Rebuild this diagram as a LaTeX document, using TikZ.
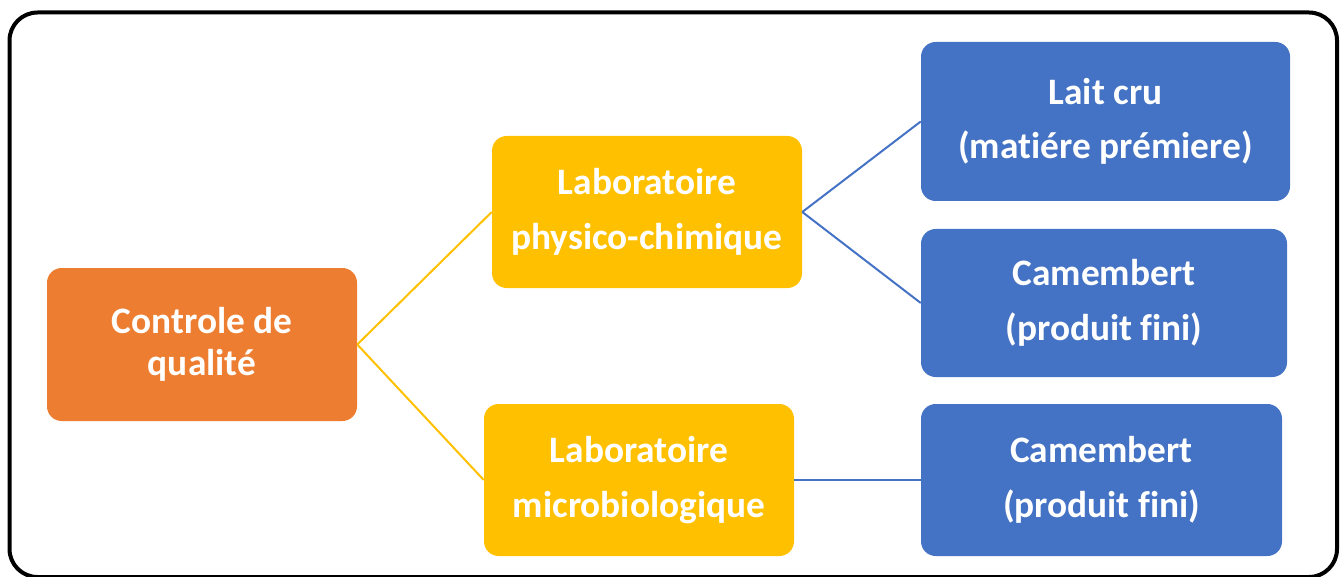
\documentclass[tikz,border=0pt]{standalone}
\usepackage{fontspec}
\setmainfont{Carlito}[Ligatures=CommonOff]
\definecolor{orangebox}{HTML}{ED7D31}
\definecolor{goldbox}{HTML}{FFC000}
\definecolor{bluebox}{HTML}{4472C4}

\begin{document}
\begin{tikzpicture}[x=0.75pt,y=-0.75pt,
  box/.style={rounded corners=11pt,inner sep=0pt,align=center,text=white,
    font=\fontsize{28}{41}\selectfont\bfseries},
  goldline/.style={goldbox,line width=1.5pt},
  blueline/.style={bluebox,line width=1.5pt}]
  \useasboundingbox (0,0) rectangle (1341,577);
  \draw[line width=3pt,rounded corners=21pt] (9.5,12.5) rectangle (1337,577);
  \node[box,fill=orangebox,minimum width=232.5pt,minimum height=114.75pt,
    font=\fontsize{28}{31.5}\selectfont\bfseries] (ctrl) at (202,344.5) {Controle de\\qualité};
  \node[box,fill=goldbox,minimum width=232.5pt,minimum height=114pt] (physchim) at (647,212) {Laboratoire\\physico-chimique};
  \node[box,fill=goldbox,minimum width=232.5pt,minimum height=114pt] (microbio) at (639,480) {Laboratoire\\microbiologique};
  \node[box,fill=bluebox,minimum width=276.75pt,minimum height=119.25pt] (laitcru) at (1105.5,121.5) {Lait cru\\ (matiére prémiere)};
  \node[box,fill=bluebox,minimum width=274.5pt,minimum height=111pt] (camA) at (1104,303) {Camembert\\(produit fini)};
  \node[box,fill=bluebox,minimum width=270.75pt,minimum height=114pt] (camB) at (1101.5,480) {Camembert\\(produit fini)};
  \draw[goldline] (ctrl.east) -- (physchim.west);
  \draw[goldline] (ctrl.east) -- (microbio.west);
  \draw[blueline] (physchim.east) -- (laitcru.west);
  \draw[blueline] (physchim.east) -- (camA.west);
  \draw[blueline] (microbio.east) -- (camB.west);
\end{tikzpicture}
\end{document}
